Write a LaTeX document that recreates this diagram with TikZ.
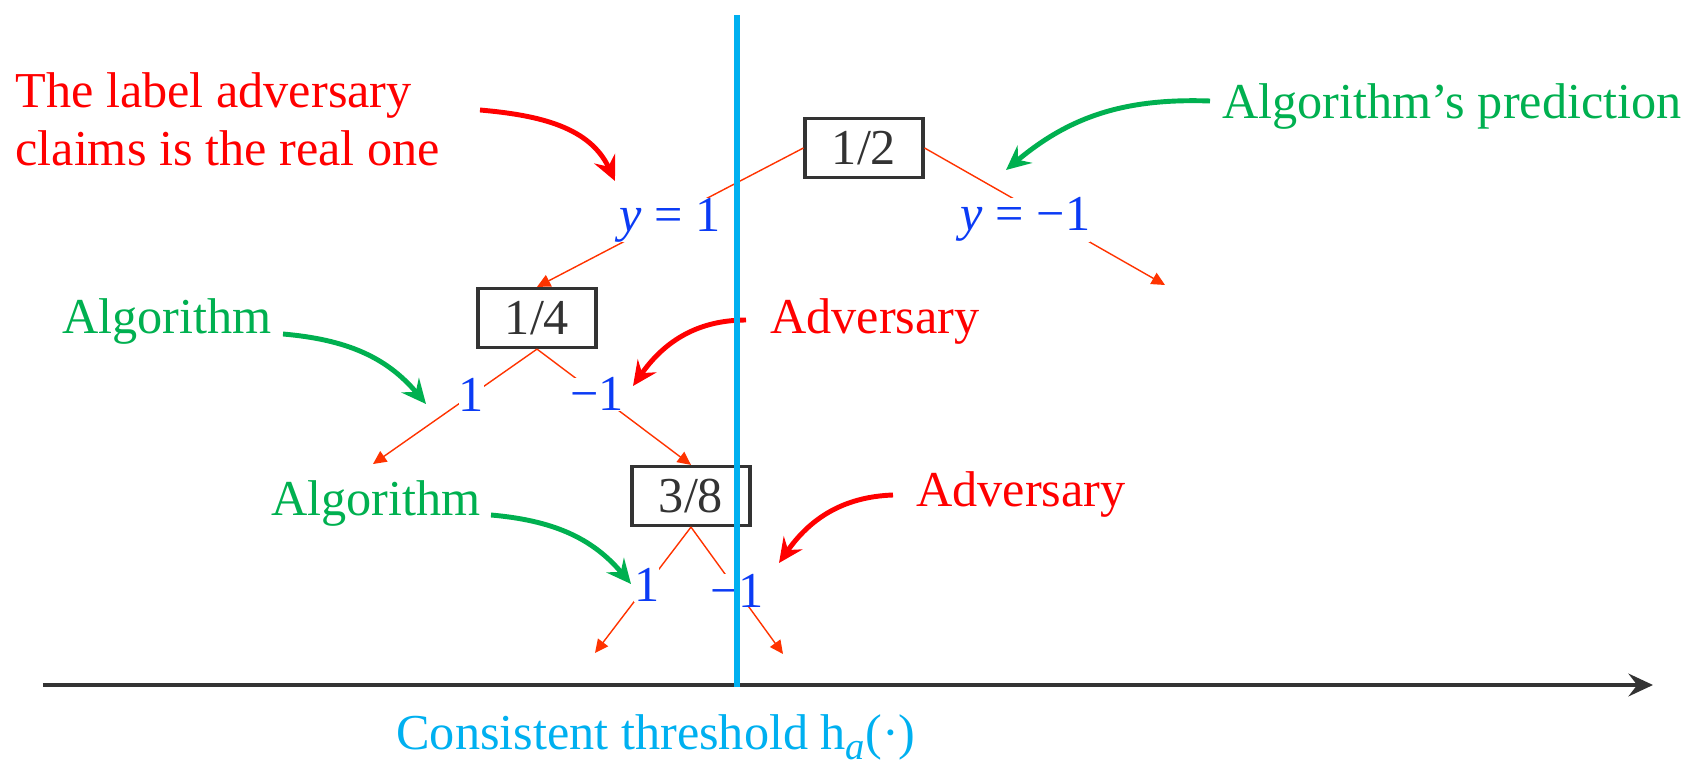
\documentclass[tikz,border=0pt]{standalone}
\usepackage{fontspec}
\setmainfont{Liberation Serif}
\usetikzlibrary{arrows.meta}
\definecolor{advred}{HTML}{FF0000}
\definecolor{algogreen}{HTML}{00B050}
\definecolor{labblue}{HTML}{0B3BF5}
\definecolor{treered}{HTML}{FF3300}
\definecolor{threshblue}{HTML}{00B0F0}
\definecolor{boxgray}{HTML}{333333}
\tikzset{
  interval/.style={draw=boxgray, line width=0.9pt, text=boxgray, fill=white,
    minimum width=1.18cm, minimum height=0.59cm, inner sep=0pt},
  tree/.style={draw=treered, line width=0.4pt},
  lbl/.style={fill=white, text=labblue, inner sep=0pt},
  callout/.style={line width=1.4pt, -{Stealth[length=7pt,width=6.5pt,inset=2.5pt]}},
}
\begin{document}
\begin{tikzpicture}[>={Triangle[length=3.8pt,width=3.6pt]}, every node/.style={font=\fontsize{14.3}{16.5}\selectfont}]
    \useasboundingbox (0,0) rectangle (16.91,7.64);
    % axis and threshold
    \coordinate (ax0) at (0.43,0.79);
    \coordinate (ax1) at (16.53,0.79);
    \draw[draw=boxgray, line width=0.9pt, -{Stealth[length=7pt,width=6.5pt,inset=2.5pt]}] (ax0)--(ax1);
    % intervals
    \node[interval] (b1) at (8.64,6.16) {1/2};
    \node[interval] (b2) at (5.37,4.46) {1/4};
    \node[interval] (b3) at (6.91,2.68) {3/8};
    \coordinate (e1) at (11.65,4.79);
    \coordinate (e2) at (3.73,3.00);
    \coordinate (e3) at (5.95,1.11);
    \coordinate (e4) at (7.83,1.10);
    \draw[tree,->] (b1.west)--node[lbl,pos=0.5,yshift=-0.03cm]{\textit{y} = 1}(b2.north);
    \draw[tree,->] (b1.east)--node[lbl,pos=0.42,yshift=-0.14cm]{\textit{y} = −1}(e1);
    \draw[tree,->] (b2.south)--node[lbl,pos=0.4]{1}(e2);
    \draw[tree,->] (b2.south)--node[lbl,pos=0.39]{−1}(b3.north);
    \draw[tree,->] (b3.south)--node[lbl,pos=0.46]{1}(e3);
    \draw[tree,->] (b3.south)--node[lbl,pos=0.5]{−1}(e4);
    % texts
    \node[text=advred, anchor=west, align=left] (claim) at (0.03,6.45) {The label adversary\\claims is the real one};
    \node[text=algogreen, anchor=west] (pred) at (12.10,6.58) {Algorithm’s prediction};
    \node[text=algogreen] (alg1) at (1.67,4.43) {Algorithm};
    \node[text=advred] (adv1) at (8.75,4.43) {Adversary};
    \node[text=algogreen] (alg2) at (3.76,2.61) {Algorithm};
    \node[text=advred] (adv2) at (10.21,2.70) {Adversary};
    % callouts
    \coordinate (c1a) at (4.80,6.54); \coordinate (c1b) at (6.15,5.83);
    \coordinate (c2a) at (12.10,6.63); \coordinate (c2b) at (10.06,5.94);
    \coordinate (c3a) at (2.83,4.30); \coordinate (c3b) at (4.26,3.60);
    \coordinate (c4a) at (7.46,4.44); \coordinate (c4b) at (6.33,3.78);
    \coordinate (c5a) at (4.91,2.49); \coordinate (c5b) at (6.31,1.80);
    \coordinate (c6a) at (8.93,2.69); \coordinate (c6b) at (7.79,2.01);
    \draw[callout, advred] (c1a) to[out=-5,in=115] (c1b);
    \draw[callout, algogreen] (c2a) to[out=178,in=40] (c2b);
    \draw[callout, algogreen] (c3a) to[out=-5,in=130] (c3b);
    \draw[callout, advred] (c4a) to[out=180,in=55] (c4b);
    \draw[callout, algogreen] (c5a) to[out=-5,in=130] (c5b);
    \draw[callout, advred] (c6a) to[out=182,in=55] (c6b);
    % threshold line
    \coordinate (th0) at (7.37,7.49);
    \coordinate (th1) at (7.37,0.77);
    \draw[threshblue, line width=1.7pt] (th0)--(th1);
    \node[text=threshblue] (thlab) at (6.56,0.27) {Consistent threshold h\raisebox{-0.2em}{\fontsize{11}{11}\selectfont\textit{a}}(·)};
\end{tikzpicture}
\end{document}
